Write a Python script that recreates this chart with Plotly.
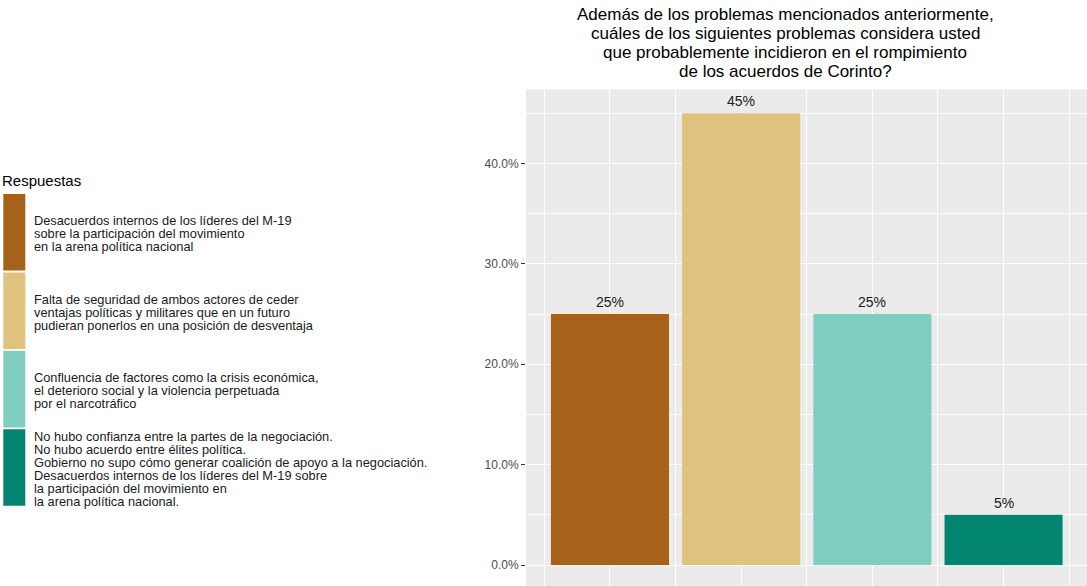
import plotly.graph_objects as go

# ---- data -------------------------------------------------------------
categorias = [1, 2, 3, 4]
porcentajes = [0.25, 0.45, 0.25, 0.05]
colores = ["#A6611A", "#DFC27D", "#80CDC1", "#018571"]

respuestas = [
    ["Desacuerdos internos de los líderes del M-19",
     "sobre la participación del movimiento",
     "en la arena política nacional"],
    ["Falta de seguridad de ambos actores de ceder",
     "ventajas políticas y militares que en un futuro",
     "pudieran ponerlos en una posición de desventaja"],
    ["Confluencia de factores como la crisis económica,",
     "el deterioro social y la violencia perpetuada",
     "por el narcotráfico"],
    ["No hubo confianza entre la partes de la negociación.",
     "No hubo acuerdo entre élites política.",
     "Gobierno no supo cómo generar coalición de apoyo a la negociación.",
     "Desacuerdos internos de los líderes del M-19 sobre",
     "la participación del movimiento en",
     "la arena política nacional."],
]

titulo = [
    "Además de los problemas mencionados anteriormente,",
    "cuáles de los siguientes problemas considera usted",
    "que probablemente incidieron en el rompimiento",
    "de los acuerdos de Corinto?",
]
titulo_leyenda = "Respuestas"
y_ticks = [0.0, 0.1, 0.2, 0.3, 0.4]

# ---- page geometry ----------------------------------------------------
W, H = 1087, 586
FONT = "Liberation Sans, Arial, sans-serif"
PANEL_LEFT, PANEL_TOP = 526, 89.5


def px(x):
    return x / W


def py(y):
    return 1 - y / H


fig = go.Figure()

fig.add_trace(go.Bar(
    x=categorias,
    y=porcentajes,
    width=0.9,
    marker=dict(color=colores, line=dict(width=0)),
    hoverinfo="skip",
    showlegend=False,
))

annotations = []
shapes = []

# value labels above bars
for c, v in zip(categorias, porcentajes):
    annotations.append(dict(
        x=c, y=v, xref="x", yref="y",
        text=f"{round(v * 100)}%",
        showarrow=False, yanchor="bottom", xanchor="center", yshift=2,
        font=dict(family=FONT, size=14, color="#1A1A1A"),
    ))

# title, one line at a time
for i, line in enumerate(titulo):
    annotations.append(dict(
        x=px(785), y=py(14.5 + 19 * i), xref="paper", yref="paper",
        text=line, showarrow=False, xanchor="center", yanchor="middle",
        font=dict(family=FONT, size=17, color="#000000"),
    ))

# legend
annotations.append(dict(
    x=px(0), y=py(180), xref="paper", yref="paper",
    text=titulo_leyenda, showarrow=False, xanchor="left", yanchor="middle",
    font=dict(family=FONT, size=15, color="#000000"),
))

key_top, key_step, key_h = 194, 78.4, 76.6
line_gap = 12.9
for k, (col, lines) in enumerate(zip(colores, respuestas)):
    top = key_top + k * key_step
    shapes.append(dict(
        type="rect", xref="paper", yref="paper",
        x0=px(3.3), x1=px(25.3), y0=py(top), y1=py(top + key_h),
        fillcolor=col, line=dict(width=0),
    ))
    center = top + key_h / 2 + 1.5
    n = len(lines)
    for j, line in enumerate(lines):
        annotations.append(dict(
            x=px(32), y=py(center + (j - (n - 1) / 2) * line_gap),
            xref="paper", yref="paper",
            text=line, showarrow=False, xanchor="left", yanchor="middle",
            font=dict(family=FONT, size=12.8, color="#1A1A1A"),
        ))

y_top = (565 - PANEL_TOP) / 1004
y_bot = (565 - H) / 1004

fig.update_layout(
    template="none",
    width=W, height=H,
    margin=dict(l=0, r=0, t=0, b=0, pad=0),
    paper_bgcolor="#FFFFFF",
    plot_bgcolor="#EBEBEB",
    showlegend=False,
    annotations=annotations,
    shapes=shapes,
    xaxis=dict(
        domain=[PANEL_LEFT / W, 1],
        range=[0.36, 4.636],
        tickmode="linear", tick0=0, dtick=1,
        showgrid=True, gridcolor="#FFFFFF", gridwidth=1.2,
        minor=dict(tick0=0.5, dtick=1, showgrid=True,
                   gridcolor="#FFFFFF", gridwidth=0.7, ticks=""),
        showticklabels=False, ticks="", zeroline=False, showline=False,
        automargin=False, fixedrange=True,
    ),
    yaxis=dict(
        domain=[0, 1 - PANEL_TOP / H],
        range=[y_bot, y_top],
        tickmode="array", tickvals=y_ticks,
        tickformat=".1%",
        showgrid=True, gridcolor="#FFFFFF", gridwidth=1.2,
        minor=dict(tick0=0.05, dtick=0.1, showgrid=True,
                   gridcolor="#FFFFFF", gridwidth=0.7, ticks=""),
        ticks="outside", ticklen=4, tickwidth=1, tickcolor="#333333",
        tickfont=dict(family=FONT, size=12, color="#4D4D4D"),
        zeroline=False, showline=False, automargin=False, fixedrange=True,
    ),
    font=dict(family=FONT),
)

fig.write_html("out.html")
